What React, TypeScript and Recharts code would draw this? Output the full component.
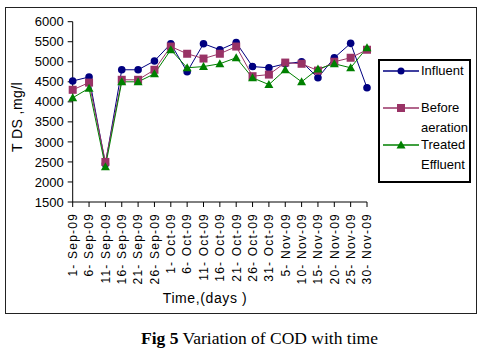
import React from "react";
import { LineChart, Line, XAxis, YAxis } from "recharts";

const dates = [
  "1- Sep-09", "6- Sep-09", "11- Sep-09", "16- Sep-09", "21- Sep-09", "26- Sep-09",
  "1- Oct-09", "6- Oct-09", "11- Oct-09", "16- Oct-09", "21- Oct-09", "26- Oct-09",
  "31- Oct-09", "5- Nov-09", "10- Nov-09", "15- Nov-09", "20- Nov-09", "25- Nov-09",
  "30- Nov-09",
];
const influent = [4520, 4620, 2450, 4800, 4800, 5020, 5450, 4750, 5450, 5300, 5480, 4880, 4850, 4950, 5000, 4600, 5100, 5460, 4350];
const beforeAeration = [4300, 4480, 2500, 4550, 4550, 4800, 5380, 5200, 5080, 5200, 5380, 4640, 4680, 4980, 4950, 4780, 5000, 5100, 5300];
const treatedEffluent = [4100, 4340, 2380, 4500, 4500, 4700, 5300, 4850, 4880, 4950, 5100, 4600, 4430, 4800, 4500, 4820, 4950, 4850, 5350];
const yTicks = [1500, 2000, 2500, 3000, 3500, 4000, 4500, 5000, 5500, 6000];

const data = dates.map((d, i) => ({
  date: d,
  Influent: influent[i],
  "Before aeration": beforeAeration[i],
  "Treated Effluent": treatedEffluent[i],
}));

const FONT = "'Liberation Sans', Arial, sans-serif";
const BLUE = "#000080";
const MAG = "#993366";
const GREEN = "#008000";

const CircleDot = (p: any) => <circle key={p.index} cx={p.cx} cy={p.cy} r={3.8} fill={BLUE} />;
const SquareDot = (p: any) => (
  <rect key={p.index} x={p.cx - 4} y={p.cy - 4} width={8} height={8} fill={MAG} />
);
const TriDot = (p: any) => (
  <polygon
    key={p.index}
    points={`${p.cx},${p.cy - 4.5} ${p.cx + 4.5},${p.cy + 3.5} ${p.cx - 4.5},${p.cy + 3.5}`}
    fill={GREEN}
  />
);

const XTick = (p: any) => (
  <text
    transform={`translate(${p.x},${p.y + 4}) rotate(-90)`}
    textAnchor="end"
    dy="0.36em"
    fontSize={12}
    letterSpacing={1.2}
    fontFamily={FONT}
    fill="#000"
  >
    {p.payload.value}
  </text>
);

function LegendRow({ top, color, marker }: { top: number; color: string; marker: string }) {
  return (
    <svg style={{ position: "absolute", left: 2, top: top - 5 }} width={38} height={10}>
      <line x1={1} y1={5} x2={37} y2={5} stroke={color} strokeWidth={1.5} />
      {marker === "c" && <circle cx={19} cy={5} r={3.5} fill={color} />}
      {marker === "s" && <rect x={15} y={1} width={8} height={8} fill={color} />}
      {marker === "t" && <polygon points="19,0.5 23.5,8.5 14.5,8.5" fill={color} />}
    </svg>
  );
}

const legendText: React.CSSProperties = {
  position: "absolute",
  left: 41,
  fontFamily: FONT,
  fontSize: 13,
  lineHeight: "14px",
  color: "#000",
};

export default function App() {
  return (
    <div style={{ position: "absolute", left: 0, top: 0, width: 482, height: 351, background: "#fff" }}>
      <div
        style={{
          position: "absolute",
          left: 5,
          top: 7,
          width: 470,
          height: 305,
          border: "1px solid #222",
        }}
      />
      <div style={{ position: "absolute", left: 0, top: 0 }}>
        <LineChart
          width={482}
          height={320}
          data={data}
          margin={{ top: 21.7, right: 115, left: 0, bottom: 0 }}
        >
          <XAxis
            dataKey="date"
            interval={0}
            height={118}
            tick={<XTick />}
            tickSize={5}
            axisLine={{ stroke: "#000" }}
            tickLine={{ stroke: "#000" }}
          />
          <YAxis
            width={72.7}
            domain={[1500, 6000]}
            ticks={yTicks}
            interval={0}
            tickSize={5}
            tickMargin={4}
            axisLine={{ stroke: "#000" }}
            tickLine={{ stroke: "#000" }}
            tick={{ fill: "#000", fontSize: 13, fontFamily: FONT }}
          />
          <Line
            type="linear"
            dataKey="Influent"
            stroke={BLUE}
            strokeWidth={1}
            dot={CircleDot}
            isAnimationActive={false}
          />
          <Line
            type="linear"
            dataKey="Before aeration"
            stroke={MAG}
            strokeWidth={1}
            dot={SquareDot}
            isAnimationActive={false}
          />
          <Line
            type="linear"
            dataKey="Treated Effluent"
            stroke={GREEN}
            strokeWidth={1}
            dot={TriDot}
            isAnimationActive={false}
          />
        </LineChart>
      </div>
      <div
        style={{
          position: "absolute",
          left: 17,
          top: 117,
          transform: "translate(-50%, -50%) rotate(-90deg)",
          whiteSpace: "nowrap",
          fontFamily: FONT,
          fontSize: 14,
          letterSpacing: 0.4,
        }}
      >
        T DS ,mg/l
      </div>
      <div
        style={{
          position: "absolute",
          left: 205,
          top: 298,
          transform: "translate(-50%, -50%)",
          whiteSpace: "nowrap",
          fontFamily: FONT,
          fontSize: 14,
          letterSpacing: 0.6,
        }}
      >
        Time,(days )
      </div>
      <div
        style={{
          position: "absolute",
          left: 378,
          top: 59,
          width: 89,
          height: 120,
          border: "2px solid #000",
        }}
      >
        <LegendRow top={10} color={BLUE} marker="c" />
        <div style={{ ...legendText, top: 3 }}>Influent</div>
        <LegendRow top={47} color={MAG} marker="s" />
        <div style={{ ...legendText, top: 40 }}>Before</div>
        <div style={{ ...legendText, top: 60 }}>aeration</div>
        <LegendRow top={84} color={GREEN} marker="t" />
        <div style={{ ...legendText, top: 77 }}>Treated</div>
        <div style={{ ...legendText, top: 97 }}>Effluent</div>
      </div>
      <div
        style={{
          position: "absolute",
          left: 0,
          top: 328,
          width: 519,
          textAlign: "center",
          fontFamily: "'Liberation Serif', 'Times New Roman', serif",
          fontSize: 17.5,
          color: "#000",
        }}
      >
        <b>Fig 5</b> Variation of COD with time
      </div>
    </div>
  );
}
